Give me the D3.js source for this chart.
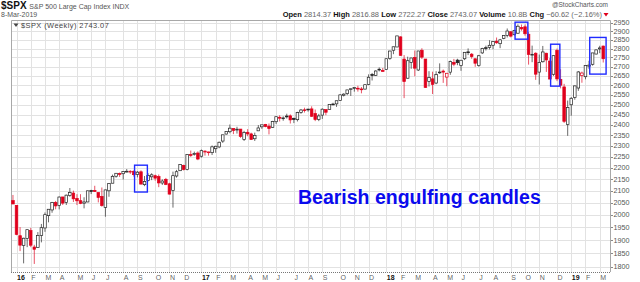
<!DOCTYPE html>
<html>
<head>
<meta charset="utf-8">
<script src="https://cdn.jsdelivr.net/npm/d3@7"></script>
<style>
  html, body { margin: 0; padding: 0; background: #fff; }
  svg { display: block; font-family: "Liberation Sans", Arial, sans-serif; }
</style>
</head>
<body>
<div id="chart"></div>
<script>
// weekly bars, dated by the last trading day of the week
const weeks = [
  "2015-12-31","2016-01-08","2016-01-15","2016-01-22","2016-01-29","2016-02-05","2016-02-12","2016-02-19","2016-02-26","2016-03-04",
  "2016-03-11","2016-03-18","2016-03-24","2016-04-01","2016-04-08","2016-04-15","2016-04-22","2016-04-29","2016-05-06","2016-05-13",
  "2016-05-20","2016-05-27","2016-06-03","2016-06-10","2016-06-17","2016-06-24","2016-07-01","2016-07-08","2016-07-15","2016-07-22",
  "2016-07-29","2016-08-05","2016-08-12","2016-08-19","2016-08-26","2016-09-02","2016-09-09","2016-09-16","2016-09-23","2016-09-30",
  "2016-10-07","2016-10-14","2016-10-21","2016-10-28","2016-11-04","2016-11-11","2016-11-18","2016-11-25","2016-12-02","2016-12-09",
  "2016-12-16","2016-12-23","2016-12-30",
  "2017-01-06","2017-01-13","2017-01-20","2017-01-27","2017-02-03","2017-02-10","2017-02-17","2017-02-24","2017-03-03","2017-03-10",
  "2017-03-17","2017-03-24","2017-03-31","2017-04-07","2017-04-13","2017-04-21","2017-04-28","2017-05-05","2017-05-12","2017-05-19",
  "2017-05-26","2017-06-02","2017-06-09","2017-06-16","2017-06-23","2017-06-30","2017-07-07","2017-07-14","2017-07-21","2017-07-28",
  "2017-08-04","2017-08-11","2017-08-18","2017-08-25","2017-09-01","2017-09-08","2017-09-15","2017-09-22","2017-09-29","2017-10-06",
  "2017-10-13","2017-10-20","2017-10-27","2017-11-03","2017-11-10","2017-11-17","2017-11-24","2017-12-01","2017-12-08","2017-12-15",
  "2017-12-22","2017-12-29",
  "2018-01-05","2018-01-12","2018-01-19","2018-01-26","2018-02-02","2018-02-09","2018-02-16","2018-02-23","2018-03-02","2018-03-09",
  "2018-03-16","2018-03-23","2018-03-29","2018-04-06","2018-04-13","2018-04-20","2018-04-27","2018-05-04","2018-05-11","2018-05-18",
  "2018-05-25","2018-06-01","2018-06-08","2018-06-15","2018-06-22","2018-06-29","2018-07-06","2018-07-13","2018-07-20","2018-07-27",
  "2018-08-03","2018-08-10","2018-08-17","2018-08-24","2018-08-31","2018-09-07","2018-09-14","2018-09-21","2018-09-28","2018-10-05",
  "2018-10-12","2018-10-19","2018-10-26","2018-11-02","2018-11-09","2018-11-16","2018-11-23","2018-11-30","2018-12-07","2018-12-14",
  "2018-12-21","2018-12-28",
  "2019-01-04","2019-01-11","2019-01-18","2019-01-25","2019-02-01","2019-02-08","2019-02-15","2019-02-22","2019-03-01","2019-03-08"
];

const opens = [
  2057.8,2038.2,1916.7,1878.9,1906.3,1936.9,1873.3,1871.4,1917.6,1947.0,
  1996.1,2019.3,2049.8,2037.9,2073.2,2050.1,2078.8,2089.4,2067.2,2057.6,
  2047.2,2052.2,2100.0,2100.8,2091.8,2075.6,2030.0,2099.3,2131.7,2162.0,
  2173.7,2173.1,2183.7,2183.7,2183.9,2170.2,2181.6,2125.4,2143.0,2159.5,
  2164.3,2160.4,2132.6,2148.5,2129.0,2100.6,2163.0,2186.4,2210.2,2191.1,
  2258.8,2259.2,2266.2,
  2251.6,2273.6,2269.1,2267.8,2286.0,2294.3,2321.7,2354.9,2366.1,2380.9,
  2374.4,2378.7,2329.1,2363.3,2355.6,2332.6,2370.3,2389.7,2401.4,2393.0,
  2387.2,2414.5,2436.4,2431.9,2442.6,2443.3,2431.4,2424.5,2460.0,2473.3,
  2477.1,2478.0,2454.4,2425.5,2447.0,2474.4,2474.5,2502.5,2503.3,2521.2,
  2547.4,2555.6,2578.1,2583.2,2584.0,2580.2,2579.5,2603.7,2657.2,2652.2,
  2685.5,2679.1,
  2683.7,2745.6,2790.8,2809.2,2867.2,2741.1,2636.8,2722.0,2750.3,2681.1,
  2790.5,2741.4,2619.4,2633.5,2611.3,2670.1,2675.4,2643.0,2669.4,2722.7,
  2735.4,2705.1,2742.9,2781.5,2768.5,2742.9,2705.0,2775.6,2805.0,2807.0,
  2819.0,2842.4,2828.0,2858.6,2876.2,2897.0,2880.0,2888.5,2921.8,2926.3,
  2882.5,2763.8,2773.9,2669.8,2726.4,2773.9,2730.1,2658.0,2790.5,2630.9,
  2590.8,2400.6,
  2498.9,2535.6,2585.1,2651.0,2644.9,2702.1,2712.4,2769.3,2798.2,2814.37
];

const highs = [
  2081.6,2038.2,1950.3,1908.9,1940.2,1947.2,1881.6,1930.7,1962.9,2009.1,
  2022.4,2052.4,2056.6,2075.1,2073.2,2083.2,2111.1,2099.9,2084.9,2084.9,
  2071.9,2100.0,2103.5,2120.6,2091.8,2113.3,2104.0,2131.7,2169.1,2175.6,
  2178.3,2184.0,2193.8,2188.5,2187.9,2184.9,2187.9,2162.9,2175.3,2175.3,
  2169.1,2169.6,2148.4,2154.8,2133.3,2182.3,2189.9,2214.1,2213.4,2259.5,
  2277.5,2272.6,2273.8,
  2282.1,2279.3,2272.1,2301.0,2299.9,2319.2,2351.3,2367.8,2401.0,2382.9,
  2390.0,2379.1,2370.4,2378.4,2361.4,2361.7,2398.2,2399.3,2403.9,2405.8,
  2418.7,2440.2,2446.2,2441.0,2453.8,2450.4,2434.0,2463.5,2477.6,2484.0,
  2478.0,2490.9,2474.9,2453.0,2480.4,2474.5,2500.2,2508.9,2519.4,2552.5,
  2557.7,2575.4,2582.4,2588.4,2597.0,2590.2,2605.0,2657.7,2665.2,2679.6,
  2695.0,2692.1,
  2743.4,2787.9,2810.3,2873.0,2870.6,2763.4,2754.4,2747.8,2789.2,2786.6,
  2801.9,2741.4,2674.8,2672.1,2674.7,2717.5,2683.6,2665.5,2732.9,2742.1,
  2742.9,2736.9,2779.9,2801.0,2774.9,2743.3,2764.4,2804.5,2816.8,2848.0,
  2841.6,2863.4,2855.6,2876.2,2916.5,2900.2,2908.3,2940.9,2939.9,2939.9,
  2894.8,2816.9,2778.9,2766.5,2815.1,2776.0,2747.0,2760.9,2800.2,2685.4,
  2607.0,2520.3,
  2538.1,2597.8,2675.5,2672.4,2708.0,2731.6,2775.7,2794.2,2816.0,2816.88
];

const lows = [
  2043.6,1918.5,1857.8,1812.3,1872.7,1872.6,1810.1,1871.4,1891.0,1931.8,
  1969.3,2007.9,2022.1,2021.7,2039.7,2039.7,2073.8,2052.2,2039.5,2043.1,
  2025.9,2051.4,2085.4,2095.0,2050.4,2032.6,1991.7,2074.0,2131.7,2155.8,
  2159.1,2147.6,2179.0,2172.3,2160.4,2157.1,2127.8,2119.1,2139.8,2145.0,
  2142.6,2114.7,2124.4,2123.4,2083.8,2028.9,2156.1,2186.4,2187.6,2187.9,
  2248.4,2254.2,2233.6,
  2245.1,2254.3,2254.3,2257.0,2267.2,2288.4,2313.2,2352.9,2358.9,2354.6,
  2357.3,2336.9,2322.3,2344.4,2328.9,2322.3,2370.3,2379.8,2387.5,2353.2,
  2385.1,2403.6,2415.7,2419.4,2430.0,2405.7,2407.7,2415.8,2453.6,2459.9,
  2464.3,2437.8,2417.4,2417.4,2428.2,2446.6,2474.5,2496.7,2488.0,2520.4,
  2541.3,2547.9,2544.0,2566.2,2566.3,2557.4,2577.3,2600.3,2624.8,2649.3,
  2673.6,2673.6,
  2682.4,2737.1,2768.6,2808.1,2759.1,2532.7,2634.8,2687.9,2647.3,2675.8,
  2741.4,2585.9,2593.1,2553.8,2605.4,2660.0,2612.2,2594.6,2655.2,2701.9,
  2707.4,2676.8,2735.3,2763.6,2742.9,2698.7,2699.0,2770.1,2789.2,2795.1,
  2796.3,2827.0,2802.5,2853.6,2864.1,2864.1,2875.0,2886.0,2903.3,2874.3,
  2710.5,2724.1,2628.2,2603.5,2722.0,2670.8,2631.1,2649.4,2621.5,2583.2,
  2408.6,2346.6,
  2444.0,2524.6,2570.4,2612.9,2631.0,2687.3,2705.1,2767.4,2774.1,2722.27
];

const closes = [
  2043.9,1922.0,1880.3,1906.9,1940.2,1880.1,1864.8,1917.8,1948.0,2000.0,
  2022.2,2049.6,2035.9,2072.8,2047.6,2080.7,2091.6,2065.3,2057.1,2046.6,
  2052.3,2099.1,2099.1,2096.1,2071.2,2037.4,2103.0,2129.9,2161.7,2175.0,
  2173.6,2182.9,2184.0,2183.9,2169.0,2180.0,2127.8,2139.2,2164.7,2168.3,
  2153.7,2133.0,2141.2,2126.4,2085.2,2164.5,2181.9,2213.4,2192.0,2259.5,
  2258.1,2263.8,2238.8,
  2277.0,2274.6,2271.3,2294.7,2297.4,2316.1,2351.2,2367.3,2383.1,2372.6,
  2378.3,2344.0,2362.7,2355.5,2329.0,2348.7,2384.2,2399.3,2390.9,2381.7,
  2415.8,2439.1,2431.8,2433.2,2438.3,2423.4,2425.2,2459.3,2472.5,2472.1,
  2476.8,2441.3,2425.6,2443.1,2476.6,2461.4,2500.2,2502.2,2519.4,2549.3,
  2553.2,2575.2,2581.1,2587.8,2582.3,2578.9,2602.4,2642.2,2651.5,2675.8,
  2683.3,2673.6,
  2743.2,2786.2,2810.3,2872.9,2762.1,2619.6,2732.2,2747.3,2691.3,2786.6,
  2752.0,2588.3,2640.9,2604.5,2656.3,2670.1,2669.9,2663.4,2727.7,2713.0,
  2721.3,2734.6,2779.0,2779.7,2754.9,2718.4,2759.8,2801.3,2801.8,2818.8,
  2840.4,2833.3,2850.1,2874.7,2901.5,2871.7,2905.0,2929.7,2914.0,2885.6,
  2767.1,2767.8,2658.7,2723.1,2781.0,2736.3,2632.6,2760.2,2633.1,2600.0,
  2416.6,2485.7,
  2531.9,2596.3,2670.7,2664.8,2706.5,2707.9,2775.6,2792.7,2803.69,2743.07
];

const priorClose = 2060.99;   // close of the week before the first bar
const volumeLabel = "10.8B";
const yTicks = d3.range(1800, 2951, 50);

// bearish engulfing boxes: first / last boxed week and price span
const boxFirstWeek = ["2016-09-02", "2018-09-21", "2018-11-30", "2019-02-15"];
const boxLastWeek = ["2016-09-16", "2018-10-05", "2018-12-07", "2019-03-08"];
const boxHigh = [2211, 2954, 2825, 2864];
const boxLow = [2094, 2854, 2595, 2659];

const noteText = "Bearish engulfing candles";

const width = 640;
const height = 282;
const plotLeft = 11;
const plotRight = 610;
const plotTop = 20;
const plotBottom = 272;

const red = "#e0001c";
const dark = "#222";
const gridColor = "#e2e2e2";

const parseDate = d3.timeParse("%Y-%m-%d");

const bars = weeks.map((w, i) => ({
  i,
  date: parseDate(w),
  o: opens[i],
  h: highs[i],
  l: lows[i],
  c: closes[i],
  prev: i ? closes[i - 1] : priorClose,
}));

const x = d3.scaleLinear().domain([-0.55, 167.9]).range([plotLeft, plotRight]);
const y = d3.scaleLog().domain([1780.8, 2967]).range([plotBottom, plotTop]);

const svg = d3
  .select("#chart")
  .append("svg")
  .attr("width", width)
  .attr("height", height);

// month boundaries = first bar of each new month
const monthStarts = bars.filter(
  (d, i) => i > 0 && d.date.getMonth() !== bars[i - 1].date.getMonth(),
);

// grid
svg
  .append("g")
  .selectAll("line")
  .data(yTicks)
  .join("line")
  .attr("x1", plotLeft)
  .attr("x2", plotRight)
  .attr("y1", (d) => Math.round(y(d)) + 0.5)
  .attr("y2", (d) => Math.round(y(d)) + 0.5)
  .attr("stroke", gridColor);

svg
  .append("g")
  .selectAll("line")
  .data(monthStarts)
  .join("line")
  .attr("x1", (d) => Math.round(x(d.i)) + 0.5)
  .attr("x2", (d) => Math.round(x(d.i)) + 0.5)
  .attr("y1", plotTop)
  .attr("y2", plotBottom)
  .attr("stroke", gridColor);

// frame
svg
  .append("path")
  .attr(
    "d",
    `M${plotLeft + 0.5},${plotBottom}V${plotTop + 0.5}H${plotRight + 0.5}V${plotBottom}`,
  )
  .attr("fill", "none")
  .attr("stroke", "#a8a8a8");

svg
  .append("line")
  .attr("x1", plotLeft)
  .attr("x2", plotRight + 1)
  .attr("y1", plotBottom + 0.5)
  .attr("y2", plotBottom + 0.5)
  .attr("stroke", "#777")
  .attr("stroke-dasharray", "1,1");

// y axis on the right
const yAxis = svg.append("g").attr("font-size", 7.2).attr("fill", "#555");

yAxis
  .selectAll("line")
  .data(yTicks)
  .join("line")
  .attr("x1", plotRight + 1)
  .attr("x2", plotRight + 3)
  .attr("y1", (d) => Math.round(y(d)) + 0.5)
  .attr("y2", (d) => Math.round(y(d)) + 0.5)
  .attr("stroke", "#888");

yAxis
  .selectAll("text")
  .data(yTicks)
  .join("text")
  .attr("x", plotRight + 3.5)
  .attr("y", (d) => y(d) + 2.6)
  .text((d) => d);

// x axis labels
svg
  .append("g")
  .selectAll("text")
  .data(monthStarts)
  .join("text")
  .attr("x", (d) => x(d.i) + 0.5)
  .attr("y", 280)
  .attr("font-size", 7)
  .attr("font-weight", (d) => (d.date.getMonth() === 0 ? "bold" : "normal"))
  .attr("fill", (d) => (d.date.getMonth() === 0 ? "#111" : "#666"))
  .text((d) =>
    d.date.getMonth() === 0
      ? d3.timeFormat("%y")(d.date)
      : d3.timeFormat("%b")(d.date).charAt(0),
  );

// candles
const candleWidth = 2.6;
const candles = svg.append("g").selectAll("g").data(bars).join("g");

candles
  .append("line")
  .attr("x1", (d) => x(d.i))
  .attr("x2", (d) => x(d.i))
  .attr("y1", (d) => y(d.h))
  .attr("y2", (d) => y(d.l))
  .attr("stroke", (d) => (d.c < d.prev ? red : dark))
  .attr("stroke-width", 0.9)
  .attr("opacity", 0.75);

candles
  .append("rect")
  .attr("x", (d) => x(d.i) - candleWidth / 2)
  .attr("width", candleWidth)
  .attr("y", (d) => y(Math.max(d.o, d.c)))
  .attr("height", (d) => Math.max(0.8, Math.abs(y(d.o) - y(d.c))))
  .attr("fill", (d) => (d.c < d.o ? (d.c < d.prev ? red : dark) : "#fff"))
  .attr("stroke", (d) => (d.c < d.prev ? red : dark))
  .attr("stroke-width", 0.7);

// highlight boxes
const indexOf = (w) => weeks.indexOf(w);
svg
  .append("g")
  .selectAll("rect")
  .data(boxFirstWeek)
  .join("rect")
  .attr("x", (d) => x(indexOf(d) - 0.8))
  .attr("width", (d, k) => x(indexOf(boxLastWeek[k]) + 0.8) - x(indexOf(d) - 0.8))
  .attr("y", (d, k) => y(boxHigh[k]))
  .attr("height", (d, k) => y(boxLow[k]) - y(boxHigh[k]))
  .attr("fill", "none")
  .attr("stroke", "#1f2bff")
  .attr("stroke-width", 1.4);

// note
svg
  .append("text")
  .attr("x", 298)
  .attr("y", 204)
  .attr("font-size", 19.5)
  .attr("font-weight", "bold")
  .attr("fill", "#0a0aee")
  .text(noteText);

// legend inside the plot
const last = bars[bars.length - 1];
svg
  .append("path")
  .attr("d", "M13.5,23.5h5l-2.5,3.5z")
  .attr("fill", "#444");
svg
  .append("text")
  .attr("x", 21)
  .attr("y", 28)
  .attr("font-size", 7.4)
  .attr("letter-spacing", 0.45)
  .attr("fill", "#444")
  .text(`$SPX (Weekly) ${d3.format(".2f")(last.c)}`);

// header
const title = svg.append("text").attr("x", 1).attr("y", 9);
title
  .append("tspan")
  .attr("font-size", 10)
  .attr("font-weight", "bold")
  .attr("fill", "#111")
  .text("$SPX ");
title
  .append("tspan")
  .attr("font-size", 7)
  .attr("fill", "#555")
  .text("S&P 500 Large Cap Index  INDX");

svg
  .append("text")
  .attr("x", 1)
  .attr("y", 17)
  .attr("font-size", 7)
  .attr("fill", "#555")
  .text(d3.timeFormat("%-d-%b-%Y")(last.date));

svg
  .append("text")
  .attr("x", 608)
  .attr("y", 7)
  .attr("font-size", 6.5)
  .attr("fill", "#555")
  .attr("text-anchor", "end")
  .text("@StockCharts.com");

const chg = last.c - last.prev;
const fmt = d3.format(".2f");
const quote = [
  ["Open", fmt(last.o)],
  ["High", fmt(last.h)],
  ["Low", fmt(last.l)],
  ["Close", fmt(last.c)],
  ["Volume", volumeLabel],
  ["Chg", `${fmt(chg)} (${fmt((chg / last.prev) * 100)}%)`],
];

const quoteText = svg
  .append("text")
  .attr("x", 602)
  .attr("y", 17)
  .attr("font-size", 7.5)
  .attr("text-anchor", "end");

quote.forEach(([label, value], k) => {
  quoteText
    .append("tspan")
    .attr("font-weight", "bold")
    .attr("fill", "#111")
    .text((k ? " " : "") + label + " ");
  quoteText.append("tspan").attr("fill", "#666").text(value);
});

svg
  .append("path")
  .attr("d", "M603.5,13h5l-2.5,3.5z")
  .attr("fill", red);
</script>
</body>
</html>
